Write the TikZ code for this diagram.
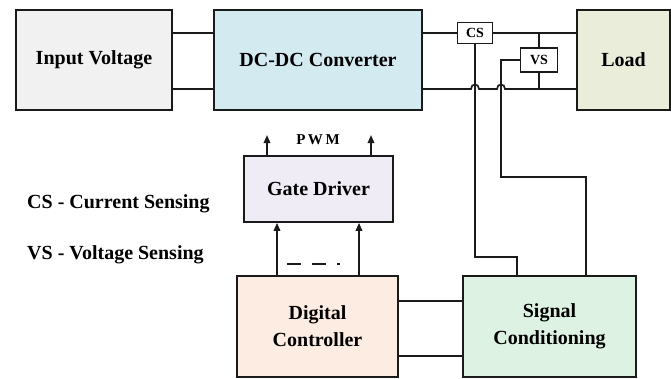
\documentclass[tikz,border=0pt]{standalone}
\usepackage{fontspec}
\setmainfont{Liberation Serif}[BoldFont={Liberation Serif Bold}]
\usetikzlibrary{arrows.meta}
\definecolor{cinp}{HTML}{F1F1F1}
\definecolor{cdc}{HTML}{D4EAF1}
\definecolor{cload}{HTML}{E9EDDA}
\definecolor{cgate}{HTML}{EFECF5}
\definecolor{cctrl}{HTML}{FCECE1}
\definecolor{csc}{HTML}{DEF2E3}
\definecolor{cline}{HTML}{1A1A1A}
\begin{document}
\begin{tikzpicture}[x=1bp,y=-1bp,
  blk/.style={draw=cline, line width=1.7bp, inner sep=0pt, align=center,
    font=\bfseries\fontsize{20bp}{27bp}\selectfont},
  sbox/.style={draw=cline, fill=white, line width=1.7bp, inner sep=0pt,
    font=\bfseries\fontsize{14bp}{16bp}\selectfont},
  wire/.style={draw=cline, line width=1.7bp},
  arr/.style={wire, -{Triangle[length=8bp,width=6.5bp]}},
  lbl/.style={font=\bfseries\fontsize{20bp}{24bp}\selectfont, inner sep=0pt, anchor=west}]
\useasboundingbox (0,0) rectangle (671,378);
\node[blk, minimum width=156bp, minimum height=100bp, fill=cinp] (inp) at (94,60) {Input Voltage};
\node[blk, minimum width=208bp, minimum height=100bp, fill=cdc] (dc) at (318,60) {DC-DC Converter};
\node[blk, minimum width=93bp, minimum height=100bp, fill=cload] (load) at (623.5,60) {Load};
\node[sbox, minimum width=35bp, minimum height=21bp] (cs) at (475,33) {CS};
\node[sbox, minimum width=37bp, minimum height=24bp] (vs) at (539,60) {VS};
\node[blk, minimum width=149bp, minimum height=66bp, fill=cgate] (gate) at (318.5,189) {Gate Driver};
\node[blk, minimum width=161bp, minimum height=101bp, fill=cctrl] (ctrl) at (317.5,326.5) {Digital\\Controller};
\node[blk, minimum width=173bp, minimum height=101bp, fill=csc] (sc) at (549.5,326.5) {Signal\\Conditioning};
\node[font=\bfseries\fontsize{15bp}{16bp}\selectfont, inner sep=0pt] (pwm) at (318,140) {P\,W\,M};
\node[lbl] (l1) at (27,204) {CS - Current Sensing};
\node[lbl] (l2) at (27,255) {VS - Voltage Sensing};
\coordinate (yt) at (0,33);
\coordinate (yb) at (0,89);
\draw[wire] (inp.east |- yt) -- (dc.west |- yt);
\draw[wire] (inp.east |- yb) -- (dc.west |- yb);
\draw[wire] (dc.east |- yt) -- (cs.west);
\draw[wire] (cs.east) -- (load.west |- yt);
\draw[wire] (dc.east |- yb) -- (471,89) .. controls (471,83) and (479,83) .. (479,89)
  -- (497,89) .. controls (497,83) and (505,83) .. (505,89) -- (load.west |- yb);
\draw[wire] (vs.north) -- (vs.north |- yt);
\draw[wire] (vs.south) -- (vs.south |- yb);
\coordinate (k1) at (517,257);
\draw[wire] (cs.south) |- (k1) -- (k1 |- sc.north);
\coordinate (k2) at (501,177);
\coordinate (k3) at (586,177);
\draw[wire] (vs.west) -| (k2) -- (k3) -- (k3 |- sc.north);
\coordinate (p1) at (267,135);
\coordinate (p2) at (371,135);
\draw[arr] (p1 |- gate.north) -- (p1);
\draw[arr] (p2 |- gate.north) -- (p2);
\coordinate (g1) at (277,0);
\coordinate (g2) at (359,0);
\draw[arr] (g1 |- ctrl.north) -- (g1 |- gate.south);
\draw[arr] (g2 |- ctrl.north) -- (g2 |- gate.south);
\draw[wire] (287,264) -- (301,264);
\draw[wire] (312,264) -- (326,264);
\draw[wire] (337,264) -- (339.5,264);
\coordinate (h1) at (0,301);
\coordinate (h2) at (0,356);
\draw[wire] (ctrl.east |- h1) -- (sc.west |- h1);
\draw[wire] (ctrl.east |- h2) -- (sc.west |- h2);
\end{tikzpicture}
\end{document}
